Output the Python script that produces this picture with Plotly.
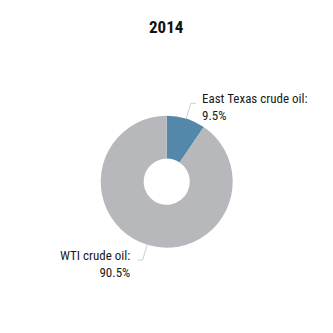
import math
import plotly.graph_objects as go

title = "2014"
labels = ["East Texas crude oil", "WTI crude oil"]
values = [9.5, 90.5]
colors = ["#5388ab", "#b7b8bc"]

W = H = 333
cx, cy, R = 166.7, 181.7, 66.0  # pixel geometry of the donut
hole = 0.35
FONT = "Roboto Condensed, Liberation Sans, Arial"

fig = go.Figure(go.Pie(
    labels=labels, values=values, sort=False, direction="clockwise", rotation=0,
    hole=hole, marker=dict(colors=colors, line=dict(width=0)),
    textinfo="none", hoverinfo="label+percent", showlegend=False,
    domain=dict(x=[(cx - R) / W, (cx + R) / W], y=[1 - (cy + R) / H, 1 - (cy - R) / H]),
))

# leader lines and labels computed from slice mid-angles
total = sum(values)
cum = 0
shapes = []
annotations = []
for lab, v in zip(labels, values):
    mid = (cum + v / 2) / total * 2 * math.pi
    cum += v
    sx, sy = math.sin(mid), -math.cos(mid)
    right = sx > 0
    ex, ey = cx + R * sx, cy + R * sy
    kx, ky = cx + (R + 16) * sx, cy + (R + 16) * sy
    hx = kx + (5 if right else -5)
    pts = [(ex, ey), (kx, ky), (hx, ky)]
    path = "M " + " L ".join(f"{x / W:.4f},{1 - y / H:.4f}" for x, y in pts)
    shapes.append(dict(type="path", xref="paper", yref="paper", path=path,
                       line=dict(color="#cfcfcf", width=1)))
    pct = f"{v / total * 100:.1f}%"
    tx = hx + (4 if right else -6)
    annotations.append(dict(
        x=tx / W, y=1 - (ky + 4) / H, xref="paper", yref="paper",
        text=f"{lab}:<br>{pct}", showarrow=False,
        xanchor="left" if right else "right", yanchor="middle",
        align="left" if right else "right",
        font=dict(family=FONT, size=13, color="#1a1a1a"),
    ))

annotations.append(dict(x=166.7 / W, y=1 - 27 / H, xref="paper", yref="paper", text=f"<b>{title}</b>",
                        showarrow=False, xanchor="center", yanchor="middle",
                        font=dict(family=FONT, size=17, color="#111111")))

fig.update_layout(width=W, height=H, margin=dict(l=0, r=0, t=0, b=0),
                  paper_bgcolor="white", plot_bgcolor="white",
                  shapes=shapes, annotations=annotations)
fig.write_html("out.html")
